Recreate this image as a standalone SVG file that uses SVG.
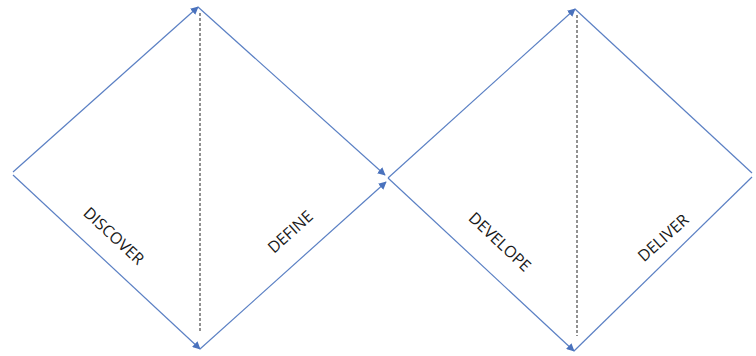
<svg xmlns="http://www.w3.org/2000/svg" width="756" height="356" viewBox="0 0 756 356">
<style>
.ln{stroke:#5b80c4;stroke-width:1.2;fill:none}
.dash{stroke:#222;stroke-width:1;stroke-dasharray:3,2;fill:none}
.lbl{font-family:"Open Sans","Liberation Sans",sans-serif;font-size:16px;fill:#1a1a1a;text-anchor:middle}
</style>
<defs>
<marker id="arr" viewBox="0 0 10 10" refX="9" refY="5" markerWidth="8" markerHeight="8" markerUnits="userSpaceOnUse" orient="auto">
<path d="M0,0 L10,5 L0,10 Z" fill="#4a72bd"/>
</marker>
</defs>
<rect width="756" height="356" fill="#fff"/>
<g id="connectors">
<line class="ln" x1="13" y1="172" x2="198" y2="7" marker-end="url(#arr)"/>
<line class="ln" x1="198" y1="7" x2="385" y2="175" marker-end="url(#arr)"/>
<line class="ln" x1="13" y1="175" x2="200" y2="349" marker-end="url(#arr)"/>
<line class="ln" x1="200" y1="349" x2="386" y2="182" marker-end="url(#arr)"/>
<line class="ln" x1="388" y1="178" x2="575" y2="9" marker-end="url(#arr)"/>
<line class="ln" x1="575" y1="9" x2="752" y2="173"/>
<line class="ln" x1="388" y1="178" x2="574" y2="351" marker-end="url(#arr)"/>
<line class="ln" x1="574" y1="351" x2="752" y2="177"/>
<line class="dash" x1="200" y1="13" x2="200" y2="332"/>
<line class="dash" x1="577" y1="15" x2="577" y2="336"/>
</g>
<g id="discover"><text class="lbl" transform="translate(110,240) rotate(43)">DISCOVER</text></g>
<g id="define"><text class="lbl" transform="translate(294,236) rotate(-42)">DEFINE</text></g>
<g id="develope"><text class="lbl" transform="translate(496,246) rotate(43)">DEVELOPE</text></g>
<g id="deliver"><text class="lbl" transform="translate(667,242) rotate(-42)">DELIVER</text></g>
</svg>
